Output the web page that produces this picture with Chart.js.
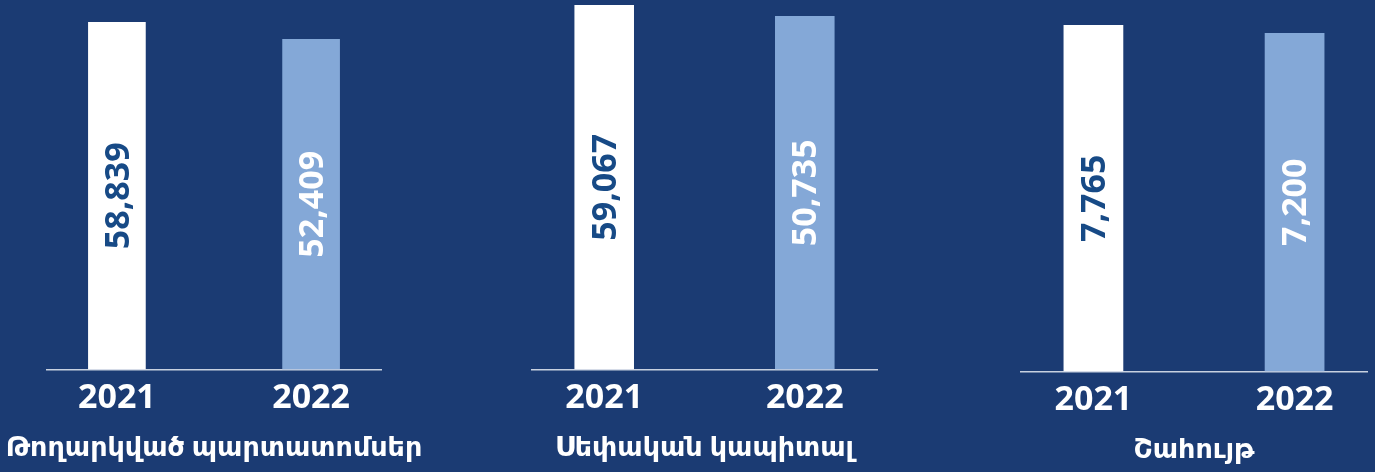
<!DOCTYPE html>
<html>
<head>
<meta charset="utf-8">
<script src="https://cdn.jsdelivr.net/npm/chart.js@4/dist/chart.umd.min.js"></script>
<style>
  html, body { margin: 0; padding: 0; background: #1b3b73; overflow: hidden; }
  body { width: 1375px; height: 472px; position: relative; }
  canvas { position: absolute; }
</style>
</head>
<body>
<canvas id="c1" width="428" height="472" style="left:0px;top:0px"></canvas>
<canvas id="c2" width="445" height="472" style="left:482px;top:0px"></canvas>
<canvas id="c3" width="406" height="472" style="left:991px;top:2px"></canvas>
<script>
var years = ["2021", "2022"];
var titles = ["Թողարկված պարտատոմսեր", "Սեփական կապիտալ", "Շահույթ"];
var bonds = [58839, 52409];
var equity = [59067, 50735];
var profit = [7765, 7200];

// the source graphic is not drawn to scale, so each panel gets its own value range
var yMins = [-72788, -217403, -16742];
var yMaxs = [67160, 62854, 9389];

var FONT = "'Open Sans', 'DejaVu Sans', sans-serif";
var barColors = ['#ffffff', '#84a8d7'];
var labelColors = ['#174a86', '#ffffff'];

var valueLabels = {
    id: 'valueLabels',
    afterDatasetsDraw: function(chart) {
        var ctx = chart.ctx;
        var meta = chart.getDatasetMeta(0);
        var data = chart.data.datasets[0].data;
        ctx.save();
        ctx.font = 'bold 34px ' + FONT;
        ctx.textAlign = 'center';
        ctx.textBaseline = 'middle';
        meta.data.forEach(function(bar, i) {
            ctx.save();
            ctx.translate(bar.x, (bar.y + bar.base) / 2);
            ctx.rotate(-Math.PI / 2);
            ctx.fillStyle = labelColors[i];
            ctx.fillText(data[i].y.toLocaleString('en-US'), 0, 2);
            ctx.restore();
        });
        ctx.restore();
    }
};

// empty side axes just reserve room so the title can be wider than the plot
function spacer(pos, w, extra) {
    var s = {
        position: pos,
        display: true,
        ticks: { display: false },
        grid: { display: false, drawTicks: false },
        border: { display: false },
        afterFit: function(sc) { sc.width = w; }
    };
    return Object.assign(s, extra || {});
}

function makePanel(id, values, title, yMin, yMax, side) {
    var ctx = document.getElementById(id).getContext('2d');
    return new Chart(ctx, {
        type: 'bar',
        data: {
            datasets: [{
                data: values.map(function(v, i) { return {x: i, y: v}; }),
                backgroundColor: barColors,
                base: yMin,
                barPercentage: 0.297,
                categoryPercentage: 1
            }]
        },
        options: {
            responsive: false,
            devicePixelRatio: 1,
            animation: false,
            layout: { padding: 0 },
            plugins: {
                legend: { display: false },
                tooltip: { enabled: false },
                title: {
                    display: true,
                    position: 'bottom',
                    text: title,
                    color: '#ffffff',
                    padding: { top: 13, bottom: 7 },
                    font: { family: FONT, size: 27, weight: 'bold' }
                }
            },
            scales: {
                x: {
                    type: 'linear',
                    min: -0.36,
                    max: 1.36,
                    offset: false,
                    grid: { display: false, drawTicks: false, offset: false },
                    border: { display: true, color: '#c8d1e0', width: 1.5 },
                    afterBuildTicks: function(s) {
                        s.ticks = years.map(function(y, i) { return {value: i}; });
                    },
                    afterFit: function(s) { s.height = 50; },
                    ticks: {
                        color: '#ffffff',
                        padding: 8,
                        font: { family: FONT, size: 34, weight: 'bold' },
                        callback: function(v) { return years[v]; }
                    }
                },
                y: spacer('left', side, { min: yMin, max: yMax }),
                yR: spacer('right', side)
            }
        },
        plugins: [valueLabels]
    });
}

makePanel('c1', bonds, titles[0], yMins[0], yMaxs[0], 47);
makePanel('c2', equity, titles[1], yMins[1], yMaxs[1], 50);
makePanel('c3', profit, titles[2], yMins[2], yMaxs[2], 30);
</script>
</body>
</html>
